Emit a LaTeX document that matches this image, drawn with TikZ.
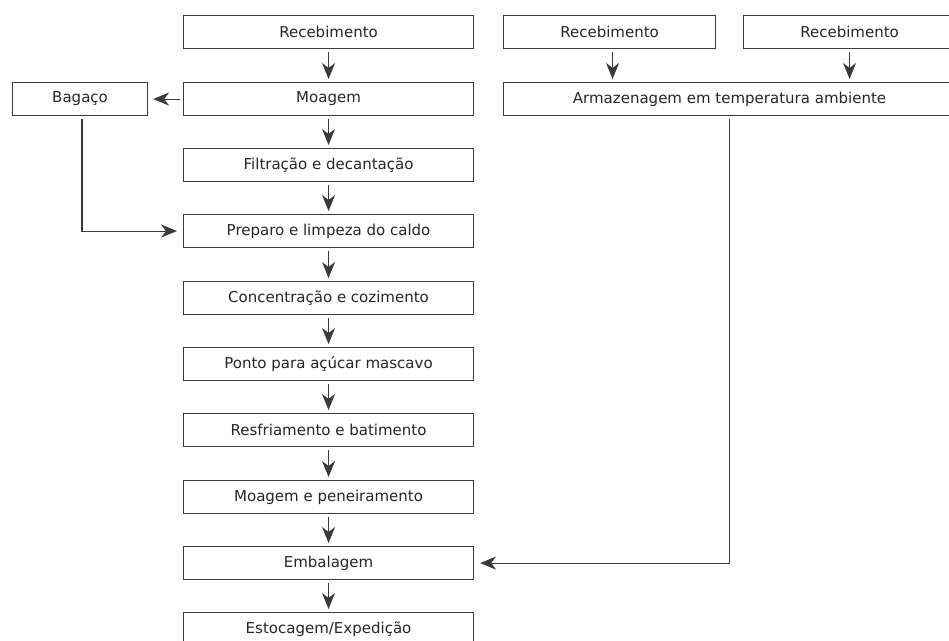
\documentclass[tikz,border=0pt]{standalone}
\usepackage{fontspec}
\setmainfont{DejaVu Sans}
\usetikzlibrary{arrows.meta}
\definecolor{ln}{HTML}{3A3A3A}
\definecolor{tx}{HTML}{262626}
\begin{document}
\begin{tikzpicture}[x=1pt,y=-1pt,
  box/.style={draw=ln, line width=1.1pt, minimum height=33pt, inner sep=0pt,
    font=\fontsize{15}{18}\selectfont, text=tx, anchor=north west},
  arr/.style={draw=ln, line width=1.1pt, -{Stealth[length=16pt,width=13pt,inset=5pt]}}]
\useasboundingbox (0,0) rectangle (949,640);
\clip (0,0) rectangle (949,640);
\node[box, minimum width=290pt] (r1) at (183,15) {Recebimento};
\node[box, minimum width=290pt] (mo) at (183,82) {Moagem};
\node[box, minimum width=290pt] (fi) at (183,148) {Filtração e decantação};
\node[box, minimum width=290pt] (pr) at (183,214) {Preparo e limpeza do caldo};
\node[box, minimum width=290pt] (co) at (183,281) {Concentração e cozimento};
\node[box, minimum width=290pt] (po) at (183,347) {Ponto para açúcar mascavo};
\node[box, minimum width=290pt] (re) at (183,413) {Resfriamento e batimento};
\node[box, minimum width=290pt] (mp) at (183,480) {Moagem e peneiramento};
\node[box, minimum width=290pt] (em) at (183,546) {Embalagem};
\node[box, minimum width=290pt] (es) at (183,612) {Estocagem/Expedição};
\node[box, minimum width=135pt] (ba) at (12,82) {Bagaço};
\node[box, minimum width=212pt] (r2) at (503,15) {Recebimento};
\node[box, minimum width=212pt] (r3) at (743,15) {Recebimento};
\node[box, minimum width=452pt] (ar) at (503,82) {Armazenagem em temperatura ambiente};
\foreach \a/\b in {r1/mo, mo/fi, fi/pr, pr/co, co/po, po/re, re/mp, mp/em, em/es}
  \draw[arr] ([yshift=-3pt]\a.south) -- ([yshift=3pt]\b.north);
\draw[arr] ([xshift=-3pt]mo.west) -- ([xshift=5pt]ba.east);
\coordinate (bl) at (82,0);
\draw[arr] ([yshift=-3pt]ba.south -| bl) |- ([xshift=-6pt]pr.west);
\coordinate (a2) at ([xshift=3pt]r2.south);
\draw[arr] ([yshift=-3pt]a2) -- ([yshift=3pt]a2 |- ar.north);
\draw[arr] ([yshift=-3pt]r3.south) -- ([yshift=3pt]r3.south |- ar.north);
\draw[arr] ([yshift=-3pt]ar.south) |- ([xshift=6pt]em.east);
\end{tikzpicture}
\end{document}
